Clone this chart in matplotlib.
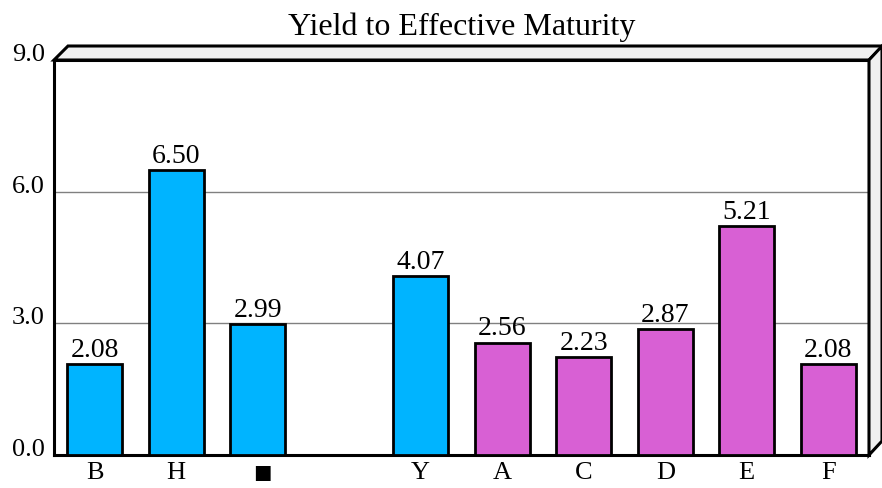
import matplotlib
matplotlib.use("Agg")
import matplotlib.pyplot as plt
from matplotlib.patches import Polygon
from matplotlib.transforms import blended_transform_factory

# chart data
categories = ["B", "H", "\u25a0", "", "Y", "A", "C", "D", "E", "F"]
values = [2.08, 6.50, 2.99, 0.0, 4.07, 2.56, 2.23, 2.87, 5.21, 2.08]
value_labels = ["2.08", "6.50", "2.99", "", "4.07", "2.56", "2.23", "2.87", "5.21", "2.08"]
bar_colors = ["#00B4FF"] * 5 + ["#D860D4"] * 5
y_ticks = [0.0, 3.0, 6.0, 9.0]

font = ["Liberation Serif", "DejaVu Sans"]
plt.rcParams["font.family"] = font

W, H = 882, 489
fig = plt.figure(figsize=(W / 100, H / 100), dpi=100)

# plot box in pixels
left, right, top, bottom = 54, 869, 61, 456
depth = 14
ax = fig.add_axes([left / W, 1 - bottom / H, (right - left) / W, (bottom - top) / H])

ax.set_xlim(-0.5, len(categories) - 0.5)
ax.set_ylim(0, 9)
for s in ax.spines.values():
    s.set_linewidth(2.2)
    s.set_color("black")

for y in y_ticks[1:-1]:
    ax.axhline(y, color="#808080", lw=1, zorder=1)

x = range(len(categories))
ax.bar(x, values, width=0.67, color=bar_colors, edgecolor="black", linewidth=2, zorder=3, clip_on=False)

for i, (v, lab) in enumerate(zip(values, value_labels)):
    if lab:
        ax.text(i, v + 0.05, lab, ha="center", va="bottom", fontsize=20, zorder=4)

# category labels: the square one is larger, so place them by hand
xlab_trans = blended_transform_factory(ax.transData, fig.transFigure)
ax.set_xticks([])
for i, cat in enumerate(categories):
    if cat == "\u25a0":
        ax.text(i + 0.05, 1 - 476 / H, cat, transform=xlab_trans, ha="center", va="center", fontsize=22)
    elif cat:
        ax.text(i, 1 - 462 / H, cat, transform=xlab_trans, ha="center", va="top", fontsize=19)
ax.set_yticks([])

trans = blended_transform_factory(fig.transFigure, ax.transData)
for y in y_ticks:
    fig.text(45 / W, y, f"{y:.1f}", transform=trans, ha="right", va="baseline", fontsize=19)


def px(points):
    return [(px_x / W, 1 - px_y / H) for px_x, px_y in points]


# 3D top and right faces
top_face = Polygon(px([(left, top), (left + depth, top - depth), (right + depth, top - depth), (right, top)]),
                   closed=True, facecolor="#F0F0F0", edgecolor="black", lw=2.2, transform=fig.transFigure)
side_face = Polygon(px([(right, top), (right + depth - 1, top - depth), (right + depth - 1, bottom - depth), (right, bottom)]),
                    closed=True, facecolor="#F0F0F0", edgecolor="black", lw=2.2, transform=fig.transFigure)
fig.add_artist(top_face)
fig.add_artist(side_face)

fig.text((left + right) / 2 / W, 1 - 27 / H, "Yield to Effective Maturity", ha="center", va="center", fontsize=23)

fig.savefig("out.png", dpi=100)
